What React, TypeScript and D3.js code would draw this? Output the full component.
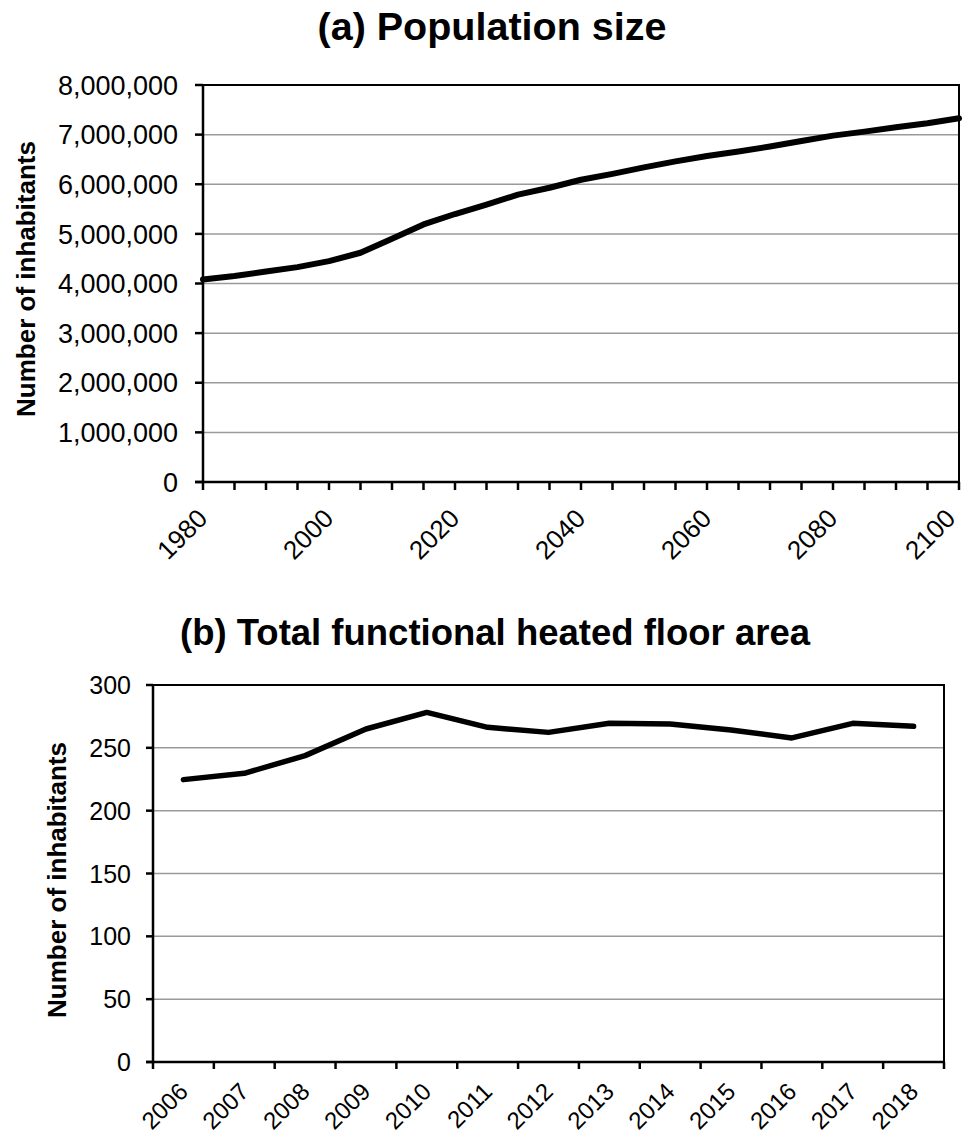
import React, { useEffect, useRef } from 'react';
import * as d3 from 'd3';

// (a) population, read every 5 years
const popYears = [1980, 1985, 1990, 1995, 2000, 2005, 2010, 2015, 2020, 2025, 2030, 2035, 2040,
  2045, 2050, 2055, 2060, 2065, 2070, 2075, 2080, 2085, 2090, 2095, 2100];
const popValues = [4080000, 4150000, 4240000, 4330000, 4450000, 4620000, 4900000, 5190000, 5400000,
  5590000, 5790000, 5930000, 6090000, 6210000, 6340000, 6460000, 6570000, 6660000, 6760000,
  6870000, 6980000, 7060000, 7150000, 7230000, 7330000];
const popYTicks = [0, 1000000, 2000000, 3000000, 4000000, 5000000, 6000000, 7000000, 8000000];
const popXLabels = [1980, 2000, 2020, 2040, 2060, 2080, 2100];

// (b) floor area
const floorYears = ['2006', '2007', '2008', '2009', '2010', '2011', '2012', '2013', '2014', '2015', '2016', '2017', '2018'];
const floorValues = [224.7, 229.7, 243.8, 265, 278.2, 266.3, 262.3, 269.5, 269, 264.2, 257.9, 269.5, 267.1];
const floorYTicks = [0, 50, 100, 150, 200, 250, 300];

const FONT = '"Liberation Sans", Arial, sans-serif';

export default function App() {
  const svgRef = useRef<SVGSVGElement>(null);

  useEffect(() => {
    if (!svgRef.current) return;
    const svg = d3.select(svgRef.current);
    svg.selectAll('*').remove();
    svg.style('font-family', FONT);

    // ---------- (a) Population size ----------
    const a = { left: 203, right: 959, top: 85, bottom: 482 };
    const xA = d3.scaleLinear().domain([1980, 2100]).range([a.left, a.right]);
    const yA = d3.scaleLinear().domain([0, 8000000]).range([a.bottom, a.top]);

    svg.append('text')
      .attr('x', 492).attr('y', 40)
      .attr('text-anchor', 'middle')
      .style('font-size', '39.5px').style('font-weight', 'bold')
      .text('(a) Population size');

    // gridlines
    svg.append('g').selectAll('line')
      .data(popYTicks.filter(d => d > 0 && d < 8000000))
      .enter().append('line')
      .attr('x1', a.left).attr('x2', a.right)
      .attr('y1', d => yA(d)).attr('y2', d => yA(d))
      .attr('stroke', '#9a9a9a').attr('stroke-width', 1.5);

    // border top/right
    svg.append('path')
      .attr('d', `M${a.left},${a.top}H${a.right}V${a.bottom}`)
      .attr('fill', 'none').attr('stroke', '#000').attr('stroke-width', 2);

    // y axis
    svg.append('line')
      .attr('x1', a.left).attr('x2', a.left).attr('y1', a.top).attr('y2', a.bottom)
      .attr('stroke', '#000').attr('stroke-width', 2.5);
    svg.append('g').selectAll('line')
      .data(popYTicks).enter().append('line')
      .attr('x1', a.left - 8).attr('x2', a.left)
      .attr('y1', d => yA(d)).attr('y2', d => yA(d))
      .attr('stroke', '#000').attr('stroke-width', 2.5);
    svg.append('g').selectAll('text')
      .data(popYTicks).enter().append('text')
      .attr('x', 178).attr('y', d => yA(d))
      .attr('dy', '0.36em')
      .attr('text-anchor', 'end')
      .style('font-size', '27px')
      .text(d => d3.format(',')(d));

    // x axis
    svg.append('line')
      .attr('x1', a.left - 8).attr('x2', a.right).attr('y1', a.bottom).attr('y2', a.bottom)
      .attr('stroke', '#000').attr('stroke-width', 2.5);
    svg.append('g').selectAll('line')
      .data(popYears).enter().append('line')
      .attr('x1', d => xA(d)).attr('x2', d => xA(d))
      .attr('y1', a.bottom).attr('y2', a.bottom + 8)
      .attr('stroke', '#000').attr('stroke-width', 2.5);
    svg.append('g').selectAll('text')
      .data(popXLabels).enter().append('text')
      .attr('transform', d => `translate(${Math.min(xA(d) + 6, 957)},${a.bottom + 38}) rotate(-45)`)
      .attr('text-anchor', 'end')
      .style('font-size', '26px')
      .text(d => String(d));

    svg.append('text')
      .attr('transform', `translate(35,279) rotate(-90)`)
      .attr('text-anchor', 'middle')
      .style('font-size', '26px').style('font-weight', 'bold')
      .text('Number of inhabitants');

    const lineA = d3.line<number>()
      .x((_, i) => xA(popYears[i]))
      .y(d => yA(d));
    svg.append('path')
      .datum(popValues)
      .attr('fill', 'none').attr('stroke', '#000')
      .attr('stroke-width', 6).attr('stroke-linejoin', 'round').attr('stroke-linecap', 'round')
      .attr('d', lineA);

    // ---------- (b) Total functional heated floor area ----------
    const b = { left: 153, right: 944, top: 685, bottom: 1062 };
    const xB = d3.scaleBand().domain(floorYears).range([b.left, b.right]);
    const yB = d3.scaleLinear().domain([0, 300]).range([b.bottom, b.top]);

    svg.append('text')
      .attr('x', 495).attr('y', 645)
      .attr('text-anchor', 'middle')
      .style('font-size', '36.5px').style('font-weight', 'bold')
      .text('(b) Total functional heated floor area');

    svg.append('g').selectAll('line')
      .data(floorYTicks.filter(d => d > 0 && d < 300))
      .enter().append('line')
      .attr('x1', b.left).attr('x2', b.right)
      .attr('y1', d => yB(d)).attr('y2', d => yB(d))
      .attr('stroke', '#9a9a9a').attr('stroke-width', 1.5);

    svg.append('path')
      .attr('d', `M${b.left},${b.top}H${b.right}V${b.bottom}`)
      .attr('fill', 'none').attr('stroke', '#000').attr('stroke-width', 2);

    svg.append('line')
      .attr('x1', b.left).attr('x2', b.left).attr('y1', b.top).attr('y2', b.bottom)
      .attr('stroke', '#000').attr('stroke-width', 2.5);
    svg.append('g').selectAll('line')
      .data(floorYTicks).enter().append('line')
      .attr('x1', b.left - 7).attr('x2', b.left)
      .attr('y1', d => yB(d)).attr('y2', d => yB(d))
      .attr('stroke', '#000').attr('stroke-width', 2.5);
    svg.append('g').selectAll('text')
      .data(floorYTicks).enter().append('text')
      .attr('x', 131).attr('y', d => yB(d))
      .attr('dy', '0.36em')
      .attr('text-anchor', 'end')
      .style('font-size', '25px')
      .text(d => String(d));

    svg.append('line')
      .attr('x1', b.left - 7).attr('x2', b.right).attr('y1', b.bottom).attr('y2', b.bottom)
      .attr('stroke', '#000').attr('stroke-width', 2.5);
    const bandEdges = floorYears.map(d => xB(d) as number).concat([b.right]);
    svg.append('g').selectAll('line')
      .data(bandEdges).enter().append('line')
      .attr('x1', d => d).attr('x2', d => d)
      .attr('y1', b.bottom).attr('y2', b.bottom + 7)
      .attr('stroke', '#000').attr('stroke-width', 2.5);
    const half = xB.bandwidth() / 2;
    svg.append('g').selectAll('text')
      .data(floorYears).enter().append('text')
      .attr('transform', d => `translate(${(xB(d) as number) + half + 6},${b.bottom + 31}) rotate(-45)`)
      .attr('text-anchor', 'end')
      .style('font-size', '24px')
      .text(d => d);

    svg.append('text')
      .attr('transform', `translate(66,880) rotate(-90)`)
      .attr('text-anchor', 'middle')
      .style('font-size', '26px').style('font-weight', 'bold')
      .text('Number of inhabitants');

    const lineB = d3.line<number>()
      .x((_, i) => (xB(floorYears[i]) as number) + half)
      .y(d => yB(d));
    svg.append('path')
      .datum(floorValues)
      .attr('fill', 'none').attr('stroke', '#000')
      .attr('stroke-width', 5.5).attr('stroke-linejoin', 'round').attr('stroke-linecap', 'round')
      .attr('d', lineB);
  }, []);

  return (
    <svg
      ref={svgRef}
      width={962}
      height={1133}
      style={{ position: 'absolute', left: 0, top: 0, background: '#fff' }}
    />
  );
}
